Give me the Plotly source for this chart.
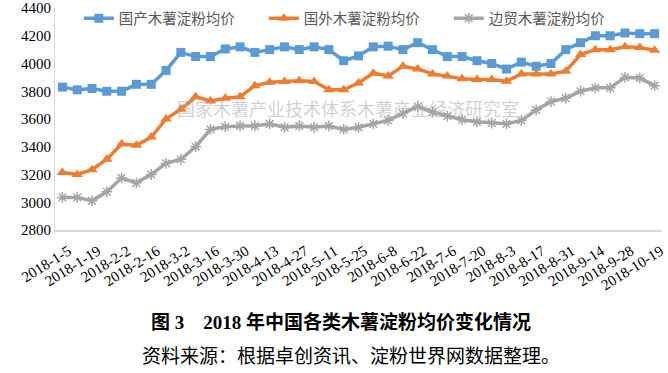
import plotly.graph_objects as go

dates = ["2018-1-5", "2018-1-12", "2018-1-19", "2018-1-26", "2018-2-2", "2018-2-9", "2018-2-16", "2018-2-23",
         "2018-3-2", "2018-3-9", "2018-3-16", "2018-3-23", "2018-3-30", "2018-4-6", "2018-4-13", "2018-4-20",
         "2018-4-27", "2018-5-4", "2018-5-11", "2018-5-18", "2018-5-25", "2018-6-1", "2018-6-8", "2018-6-15",
         "2018-6-22", "2018-6-29", "2018-7-6", "2018-7-13", "2018-7-20", "2018-7-27", "2018-8-3", "2018-8-10",
         "2018-8-17", "2018-8-24", "2018-8-31", "2018-9-7", "2018-9-14", "2018-9-21", "2018-9-28", "2018-10-12",
         "2018-10-19"]

domestic = [3830, 3810, 3820, 3800, 3800, 3850, 3850, 3950, 4080, 4050, 4050, 4105, 4120, 4080, 4100, 4120,
            4100, 4120, 4100, 4020, 4055, 4120, 4125, 4100, 4150, 4100, 4050, 4050, 4020, 4000, 3960, 4010,
            3980, 4000, 4100, 4150, 4200, 4200, 4220, 4215, 4215]

foreign = [3215, 3200, 3235, 3310, 3420, 3410, 3470, 3600, 3670, 3760, 3730, 3750, 3760, 3840, 3865, 3870,
           3875, 3870, 3810, 3810, 3860, 3930, 3910, 3980, 3960, 3925, 3910, 3890, 3885, 3885, 3872, 3925,
           3925, 3925, 3945, 4065, 4100, 4100, 4120, 4115, 4095]

border = [3035, 3035, 3010, 3075, 3175, 3140, 3200, 3280, 3310, 3400, 3525, 3545, 3550, 3550, 3565, 3540,
          3550, 3540, 3550, 3525, 3540, 3565, 3590, 3640, 3690, 3650, 3620, 3595, 3580, 3570, 3565, 3590,
          3665, 3725, 3750, 3800, 3825, 3825, 3900, 3895, 3840]

series_names = ["国产木薯淀粉均价", "国外木薯淀粉均价", "边贸木薯淀粉均价"]
y_ticks = [2800, 3000, 3200, 3400, 3600, 3800, 4000, 4200, 4400]
tick_dates = dates[::2]

title_text = "<b>图 3　2018 年中国各类木薯淀粉均价变化情况</b>"
source_text = "资料来源：根据卓创资讯、淀粉世界网数据整理。"
watermark_text = "国家木薯产业技术体系木薯产业经济研究室"

fig = go.Figure()
fig.add_trace(go.Scatter(x=dates, y=domestic, name=series_names[0], mode="lines+markers",
                         line=dict(color="#5B9BD5", width=3.5),
                         marker=dict(symbol="square", size=9, color="#5B9BD5")))
fig.add_trace(go.Scatter(x=dates, y=foreign, name=series_names[1], mode="lines+markers",
                         line=dict(color="#ED7D31", width=3.5),
                         marker=dict(symbol="triangle-up", size=10, color="#ED7D31")))
fig.add_trace(go.Scatter(x=dates, y=border, name=series_names[2], mode="lines+markers",
                         line=dict(color="#A5A5A5", width=3.5),
                         marker=dict(symbol="asterisk-open", size=9, color="#A5A5A5",
                                     line=dict(color="#A5A5A5", width=1.5))))

fig.update_layout(
    width=668, height=373,
    margin=dict(l=55, r=6, t=8, b=143, autoexpand=False),
    paper_bgcolor="white", plot_bgcolor="white",
    showlegend=True,
    legend=dict(orientation="h", xref="container", yref="container", x=0.118, y=0.951,
                xanchor="left", yanchor="middle",
                font=dict(family="Noto Sans CJK SC", size=14.5, color="#595959"),
                bgcolor="rgba(0,0,0,0)", entrywidth=140, entrywidthmode="pixels"),
    font=dict(family="Liberation Serif, Noto Sans CJK SC", color="black"),
)
fig.update_xaxes(type="category", range=[-0.5, len(dates) - 0.5], tickvals=tick_dates, ticktext=tick_dates,
                 tickangle=-32, tickfont=dict(family="Liberation Serif", size=15, color="black"),
                 ticklabelshift=6, ticklabelstandoff=5,
                 showgrid=False, showline=True, linecolor="#D9D9D9", linewidth=1.5, ticks="", zeroline=False,
                 automargin=False)
fig.update_yaxes(range=[2800, 4400], tickvals=y_ticks, showgrid=False, showline=True, linecolor="#D9D9D9",
                 linewidth=1, ticks="", tickfont=dict(family="Liberation Serif", size=15, color="black"),
                 zeroline=False, automargin=False)

fig.add_annotation(text=watermark_text, xref="paper", yref="paper", x=0.482, y=0.55, showarrow=False,
                   xanchor="center", yanchor="middle",
                   font=dict(family="Noto Sans CJK SC", size=18, color="rgba(170,170,170,0.55)"))
fig.add_annotation(text=title_text, xref="paper", yref="paper", x=0.471, y=-0.414, showarrow=False,
                   xanchor="center", yanchor="middle",
                   font=dict(family="Liberation Serif, Noto Sans CJK SC", size=19, color="black"))
fig.add_annotation(text=source_text, xref="paper", yref="paper", x=0.4877, y=-0.568, showarrow=False,
                   xanchor="center", yanchor="middle",
                   font=dict(family="Liberation Serif, Noto Sans CJK SC", size=19, color="black"))

fig.write_html("out.html", config={"displayModeBar": False},
               post_script="document.body.style.margin='0';document.body.style.padding='0';")
